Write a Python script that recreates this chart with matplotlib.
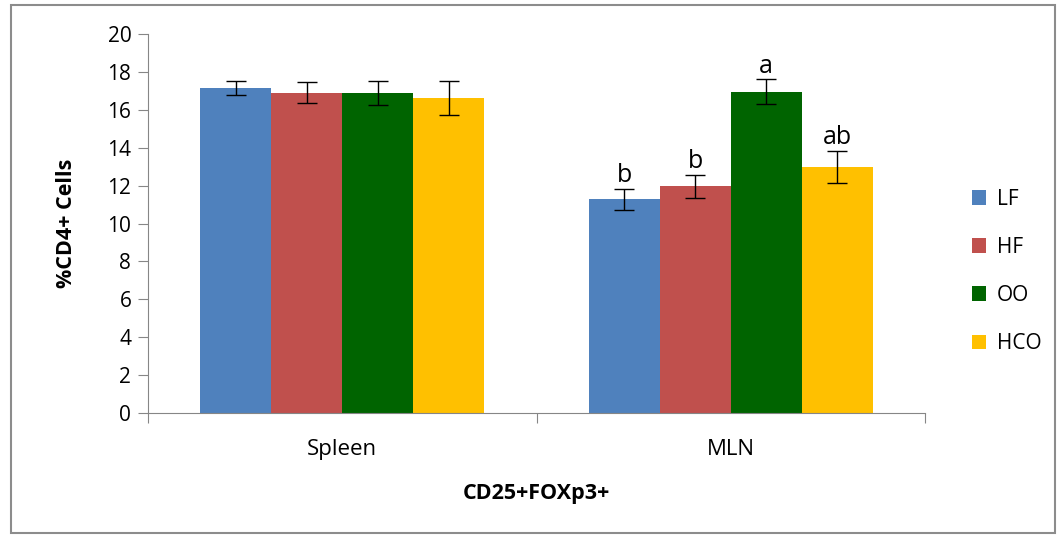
import matplotlib
matplotlib.use("Agg")
import matplotlib.pyplot as plt
import numpy as np
from matplotlib.patches import Rectangle

plt.rcParams['font.family'] = ['Open Sans', 'DejaVu Sans']

tissues = ["Spleen", "MLN"]
diets = ["LF", "HF", "OO", "HCO"]
colors = ["#4F81BD", "#C0504D", "#006400", "#FFC000"]

means = {
    "LF":  [17.15, 11.28],
    "HF":  [16.90, 11.96],
    "OO":  [16.90, 16.96],
    "HCO": [16.62, 12.97],
}
errors = {
    "LF":  [0.38, 0.55],
    "HF":  [0.55, 0.60],
    "OO":  [0.64, 0.64],
    "HCO": [0.92, 0.85],
}
letters = {
    "LF":  ["", "b"],
    "HF":  ["", "b"],
    "OO":  ["", "a"],
    "HCO": ["", "ab"],
}

fig = plt.figure(figsize=(10.61, 5.37), dpi=100)
fig.patches.append(Rectangle((11/1061, 1-533/537), (1055-11)/1061, (533-5)/537,
                             transform=fig.transFigure, fill=False,
                             edgecolor="#8C8C8C", linewidth=1.5))
ax = fig.add_axes([148/1061, 1-413/537, (925-148)/1061, (413-34)/537])

x = np.arange(len(tissues))
group_w = 0.73
bw = group_w / len(diets)
for i, d in enumerate(diets):
    pos = x - group_w/2 + bw*(i+0.5)
    ax.bar(pos, means[d], width=bw, color=colors[i], label=d, zorder=2)
    ax.errorbar(pos, means[d], yerr=errors[d], fmt="none", ecolor="black",
                elinewidth=1.0, capsize=7, capthick=1.0, zorder=3)
    for p, m, e, t in zip(pos, means[d], errors[d], letters[d]):
        if t:
            ax.text(p, m + e + 0.05, t, ha="center", va="bottom", fontsize=18)

ax.set_xlim(-0.5, 1.5)
ax.set_ylim(0, 20)
ax.set_yticks(np.arange(0, 21, 2))
ax.set_xticks([-0.5, 0.5, 1.5])
ax.set_xticklabels([])
ax.set_xticks(x, minor=True)
ax.set_xticklabels(tissues, minor=True, fontsize=16)
ax.tick_params(axis="x", which="minor", length=0, pad=19)
ax.tick_params(axis="x", which="major", length=7, color="#868686", direction="out")
ax.tick_params(axis="y", length=7, color="#868686", labelsize=15, pad=5)

for s in ["top", "right"]:
    ax.spines[s].set_visible(False)
for s in ["left", "bottom"]:
    ax.spines[s].set_color("#868686")

ax.set_ylabel("%CD4+ Cells", fontsize=15.5, fontweight="bold", labelpad=22)
ax.set_xlabel("CD25+FOXp3+", fontsize=15.5, fontweight="bold", labelpad=16)

ax.legend(loc="center left", bbox_to_anchor=(953/1061, 265.5/537),
          bbox_transform=fig.transFigure, frameon=False, fontsize=15,
          handlelength=0.7, handleheight=0.7, handletextpad=0.5,
          labelspacing=1.3)

fig.savefig("out.png", dpi=100)
